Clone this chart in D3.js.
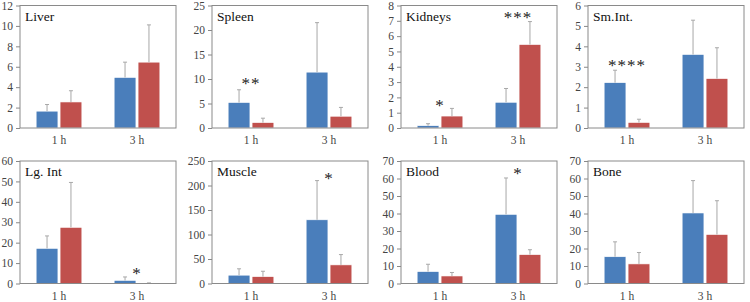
<!DOCTYPE html>
<html>
<head>
<meta charset="utf-8">
<script src="https://cdn.jsdelivr.net/npm/d3@7"></script>
<style>
  body { margin: 0; background: #fff; }
  svg { display: block; }
</style>
</head>
<body>
<svg id="drawing_region"></svg>
<script>
// data
const organs = ["Liver", "Spleen", "Kidneys", "Sm.Int.", "Lg. Int", "Muscle", "Blood", "Bone"];
const times = ["1 h", "3 h"];
const yMax = [12, 25, 8, 6, 60, 250, 70, 70];
const yStep = [2, 5, 1, 1, 10, 50, 10, 10];

const blueMean = [[1.65, 4.95], [5.2, 11.4], [0.15, 1.68], [2.22, 3.6], [17.2, 1.5], [17, 130], [6.8, 39.5], [15.3, 40.3]];
const blueSd   = [[0.65, 1.5], [2.6, 10.1], [0.13, 0.9], [0.61, 1.68], [6.1, 1.7], [13, 80], [4.2, 20.8], [8.5, 18.5]];
const redMean  = [[2.55, 6.45], [1.1, 2.4], [0.78, 5.45], [0.27, 2.42], [27.5, 0.2], [14, 38], [4.3, 16.5], [11.2, 28]];
const redSd    = [[1.1, 3.65], [0.9, 1.8], [0.5, 1.5], [0.16, 1.51], [22, 0.1], [11, 21], [2.0, 2.8], [6.5, 19.3]];

const stars    = [["", ""], ["**", ""], ["*", "***"], ["****", ""], ["", "*"], ["", "*"], ["", "*"], ["", ""]];
const starAt   = [[0, 0], [9.6, 0], [1.64, 7.35], [3.2, 0], [0, 6.3], [0, 219], [0, 64.3], [0, 0]];

const config = { width: 750, height: 302 };
const colLeft = [20, 212, 401, 588];
const rowTop = [5.5, 161];
const panelW = 156, panelH = 122.5;
const colors = ["#4a7ebb", "#c0504d"];
const serif = "Liberation Serif";

const svg = d3.select('#drawing_region')
    .attr('width', config.width)
    .attr('height', config.height);

organs.forEach((name, i) => {
    const g = svg.append('g')
        .attr('transform', `translate(${colLeft[i % 4]}, ${rowTop[Math.floor(i / 4)]})`);

    const x = d3.scaleBand().domain(times).range([0, panelW])
        .paddingInner(0.414).paddingOuter(0.207);
    const xs = d3.scaleBand().domain([0, 1]).range([0, x.bandwidth()]).paddingInner(0.09);
    const y = d3.scaleLinear().domain([0, yMax[i]]).range([panelH, 0]);

    // y axis
    const ticks = d3.range(0, yMax[i] + yStep[i] / 2, yStep[i]);
    const yAxis = g.append('g')
        .call(d3.axisLeft(y).tickValues(ticks).tickSize(4).tickPadding(3).tickFormat(d3.format('d')));
    yAxis.select('.domain').remove();
    yAxis.selectAll('line').attr('stroke', '#888');
    yAxis.selectAll('text')
        .attr('font-family', serif)
        .attr('font-size', 11.5)
        .attr('fill', '#444');

    // x labels
    g.selectAll('.xlab').data(times).enter().append('text')
        .attr('x', d => x(d) + x.bandwidth() / 2)
        .attr('y', panelH + 16)
        .attr('text-anchor', 'middle')
        .attr('font-family', serif)
        .attr('font-size', 11.5)
        .attr('fill', '#444')
        .text(d => d);

    const bars = [];
    times.forEach((t, j) => {
        bars.push({ t: t, s: 0, v: blueMean[i][j], e: blueSd[i][j] });
        bars.push({ t: t, s: 1, v: redMean[i][j], e: redSd[i][j] });
    });

    g.selectAll('.bar').data(bars).enter().append('rect')
        .attr('x', d => x(d.t) + xs(d.s))
        .attr('y', d => y(d.v))
        .attr('width', xs.bandwidth())
        .attr('height', d => panelH - y(d.v))
        .attr('fill', d => colors[d.s])
        .attr('stroke', '#fff')
        .attr('stroke-width', 0.6);

    // error bars (upper only)
    const err = g.selectAll('.err').data(bars).enter().append('g')
        .attr('stroke', '#a8a8a8').attr('stroke-width', 1);
    err.append('line')
        .attr('x1', d => x(d.t) + xs(d.s) + xs.bandwidth() / 2)
        .attr('x2', d => x(d.t) + xs(d.s) + xs.bandwidth() / 2)
        .attr('y1', d => y(d.v))
        .attr('y2', d => y(d.v + d.e));
    err.append('line')
        .attr('x1', d => x(d.t) + xs(d.s) + xs.bandwidth() / 2 - 2)
        .attr('x2', d => x(d.t) + xs(d.s) + xs.bandwidth() / 2 + 2)
        .attr('y1', d => y(d.v + d.e))
        .attr('y2', d => y(d.v + d.e));

    // significance marks
    times.forEach((t, j) => {
        if (!stars[i][j]) return;
        g.append('text')
            .attr('x', x(t) + x.bandwidth() / 2)
            .attr('y', y(starAt[i][j]) + 8)
            .attr('text-anchor', 'middle')
            .attr('font-family', serif)
            .attr('font-size', 17)
            .attr('letter-spacing', 1)
            .attr('fill', '#222')
            .text(stars[i][j]);
    });

    // frame
    g.append('rect')
        .attr('width', panelW).attr('height', panelH)
        .attr('fill', 'none').attr('stroke', '#8a8a8a').attr('stroke-width', 1);

    // title
    g.append('text')
        .attr('x', 5).attr('y', 15)
        .attr('font-family', serif)
        .attr('font-size', 13.5)
        .attr('fill', '#111')
        .text(name);
});
</script>
</body>
</html>
